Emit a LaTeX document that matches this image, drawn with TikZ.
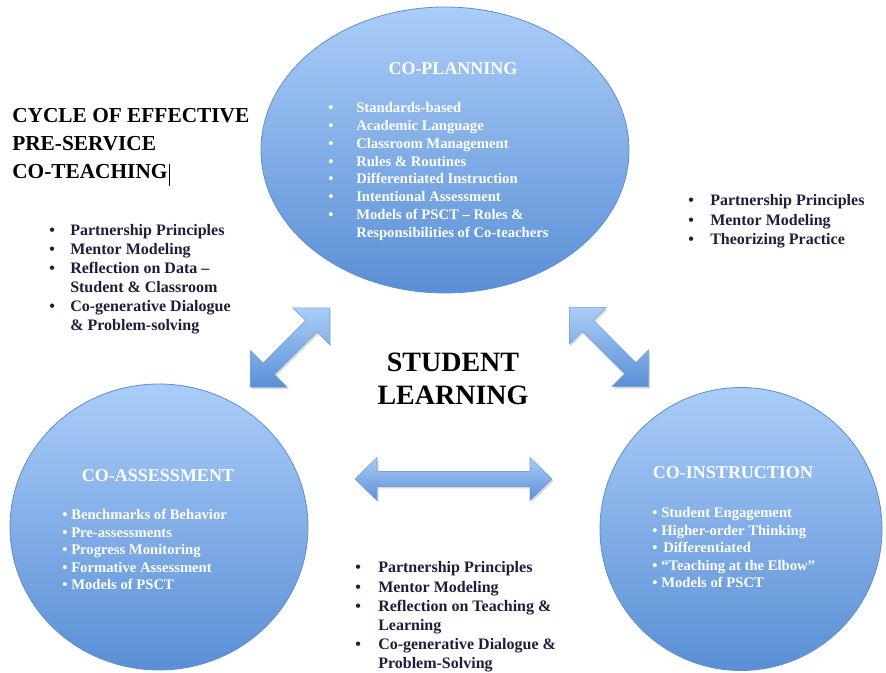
\documentclass[tikz,border=0pt]{standalone}
\usepackage{fontspec}
\setmainfont{Liberation Serif}
\usetikzlibrary{shapes.geometric,shadows}
\definecolor{ovaltop}{HTML}{AACDF8}
\definecolor{ovalbot}{HTML}{5A8FD5}
\definecolor{ovaledge}{HTML}{5F8ED0}
\definecolor{listtxt}{HTML}{1E1E3C}
\newcommand\bul[1]{\makebox[\dimexpr #1pt*3/4\relax][l]{\textbullet}}
\newcommand\blockarr[6]{%
  \begin{scope}[shift={#1}, rotate=#2]
    \path[blockarrow] ({-#3/2},0) -- ({-#3/2+#4},{-#5}) -- ({-#3/2+#4},{-#6})
      -- ({#3/2-#4},{-#6}) -- ({#3/2-#4},{-#5}) -- ({#3/2},0)
      -- ({#3/2-#4},{#5}) -- ({#3/2-#4},{#6}) -- ({-#3/2+#4},{#6})
      -- ({-#3/2+#4},{#5}) -- cycle;
  \end{scope}}
\tikzset{
  oval/.style={ellipse, draw=ovaledge, line width=0.6pt, top color=ovaltop,
    bottom color=ovalbot, inner sep=0pt, outer sep=0pt},
  ovaltitle/.style={font=\fontsize{13.5}{16}\selectfont\bfseries, text=white,
    anchor=base, inner sep=0pt},
  ovallist/.style={text=white, anchor=base west, inner sep=0pt},
  blacklist/.style={text=listtxt, anchor=base west, inner sep=0pt},
  bigtitle/.style={font=\fontsize{16}{21}\selectfont\bfseries, text=black,
    anchor=base west, inner sep=0pt},
  centretitle/.style={font=\fontsize{21}{24.75}\selectfont\bfseries, text=black,
    anchor=base, inner sep=0pt},
  blockarrow/.style={draw=ovaledge!85, line width=0.4pt, top color=ovaltop,
    bottom color=ovalbot,
    drop shadow={shadow xshift=1.2pt, shadow yshift=-1.5pt, opacity=0.3}},
}
\begin{document}
\begin{tikzpicture}[x=0.75pt, y=-0.75pt]
\useasboundingbox (0,0) rectangle (886,673);
\fill[white] (0,0) rectangle (886,673);

% ovals
\node[oval, minimum width=276pt, minimum height=214.5pt] (plan) at (445,150) {};
\node[oval, minimum width=223.5pt, minimum height=214.5pt] (assess) at (159,527) {};
\node[oval, minimum width=211.5pt, minimum height=212.25pt] (instr) at (741,529) {};

% block arrows
\coordinate (la) at (290,347.5);
\coordinate (ra) at (609,347);
\coordinate (ha) at (453.5,479);
\blockarr{(la)}{45}{112}{26}{26}{8}
\blockarr{(ra)}{-45}{112}{26}{26}{8}
\blockarr{(ha)}{0}{197}{22}{21.5}{7.5}

% title
\node[bigtitle] (title) at (12,123) {\begin{tabular}[t]{@{}l@{}}
CYCLE OF EFFECTIVE\\ PRE-SERVICE\\ CO-TEACHING\end{tabular}};
\draw[line width=0.7pt] (169,164) -- (169,186);

% centre
\node[centretitle] (centre) at (453,372) {\begin{tabular}[t]{@{}c@{}}
STUDENT\\ LEARNING\end{tabular}};

% left list
\node[blacklist, font=\fontsize{12}{14.25}\selectfont\bfseries] (leftlist) at (49,236) {%
\begin{tabular}[t]{@{}l@{}l@{}}
\bul{21}&Partnership Principles\\
\bul{21}&Mentor Modeling\\
\bul{21}&Reflection on Data –\\
&Student \& Classroom\\
\bul{21}&Co-generative Dialogue\\
&\& Problem-solving
\end{tabular}};

% right list
\node[blacklist, font=\fontsize{12}{14.6}\selectfont\bfseries] (rightlist) at (688,206) {%
\begin{tabular}[t]{@{}l@{}l@{}}
\bul{22}&Partnership Principles\\
\bul{22}&Mentor Modeling\\
\bul{22}&Theorizing Practice
\end{tabular}};

% bottom list
\node[blacklist, font=\fontsize{12}{14.4}\selectfont\bfseries] (bottomlist) at (355,573) {%
\begin{tabular}[t]{@{}l@{}l@{}}
\bul{23}&Partnership Principles\\
\bul{23}&Mentor Modeling\\
\bul{23}&Reflection on Teaching \&\\
&Learning\\
\bul{23}&Co-generative Dialogue \&\\
&Problem-Solving
\end{tabular}};

% co-planning
\node[ovaltitle] (plantitle) at (453,75) {CO-PLANNING};
\node[ovallist, font=\fontsize{11}{13.3}\selectfont\bfseries] (planlist) at (328,113) {%
\begin{tabular}[t]{@{}l@{}l@{}}
\bul{28}&Standards-based\\
\bul{28}&Academic Language\\
\bul{28}&Classroom Management\\
\bul{28}&Rules \& Routines\\
\bul{28}&Differentiated Instruction\\
\bul{28}&Intentional Assessment\\
\bul{28}&Models of PSCT – Roles \&\\
&Responsibilities of Co-teachers
\end{tabular}};

% co-assessment
\node[ovaltitle] (assesstitle) at (158,482) {CO-ASSESSMENT};
\node[ovallist, font=\fontsize{11}{13.1}\selectfont\bfseries] (assesslist) at (62,520) {%
\begin{tabular}[t]{@{}l@{}l@{}}
\bul{9}&Benchmarks of Behavior\\
\bul{9}&Pre-assessments\\
\bul{9}&Progress Monitoring\\
\bul{9}&Formative Assessment\\
\bul{9}&Models of PSCT
\end{tabular}};

% co-instruction
\node[ovaltitle] (instrtitle) at (733,479) {CO-INSTRUCTION};
\node[ovallist, font=\fontsize{11}{13.1}\selectfont\bfseries] (instrlist) at (652,518) {%
\begin{tabular}[t]{@{}l@{}l@{}}
\bul{9}&Student Engagement\\
\bul{9}&Higher-order Thinking\\
\bul{9}&\hspace{1.5pt}Differentiated\\
\bul{9}&“Teaching at the Elbow”\\
\bul{9}&Models of PSCT
\end{tabular}};
\end{tikzpicture}
\end{document}
